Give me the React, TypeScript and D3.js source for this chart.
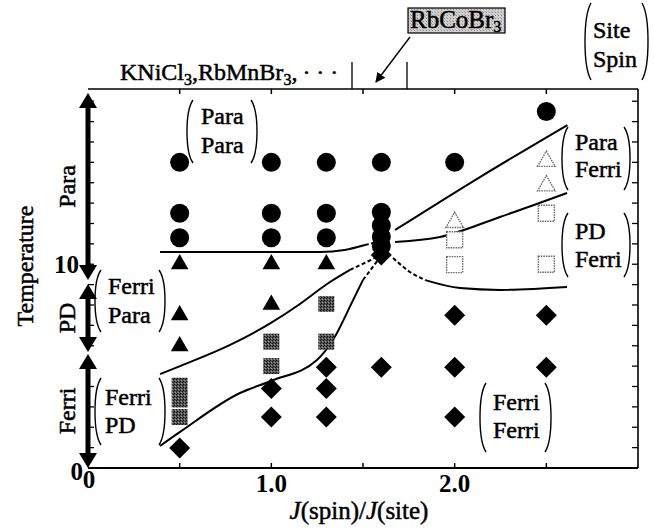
import React from 'react';
import * as d3 from 'd3';

const W = 654;
const H = 529;
const X_DOMAIN: [number, number] = [0, 3];
const Y_DOMAIN: [number, number] = [0, 18.6];

// Para / Para (filled circles)
const paraParaX = [0.5, 0.5, 0.5, 1.0, 1.0, 1.0, 1.3, 1.3, 1.3, 1.6, 1.6, 1.6, 1.6, 1.6, 2.0, 2.5];
const paraParaY = [15.0, 12.5, 11.3, 15.0, 12.5, 11.3, 15.0, 12.5, 11.3, 15.0, 12.55, 11.9, 11.35, 10.9, 15.0, 17.5];
// Ferri / Para (filled triangles)
const ferriParaX = [0.5, 0.5, 0.5, 1.0, 1.0, 1.3];
const ferriParaY = [10.05, 7.55, 6.03, 10.05, 8.06, 10.05];
// Ferri / PD (stippled squares)
const ferriPDX = [0.5, 0.5, 0.5, 1.0, 1.0, 1.3, 1.3];
const ferriPDY = [4.04, 3.36, 2.5, 6.2, 5.0, 8.05, 6.2];
// Ferri / Ferri (diamonds)
const ferriFerriX = [0.5, 1.0, 1.0, 1.3, 1.3, 1.3, 1.6, 1.6, 2.0, 2.0, 2.0, 2.5, 2.5];
const ferriFerriY = [0.98, 3.9, 2.5, 4.95, 3.9, 2.5, 10.45, 4.95, 7.5, 4.95, 2.5, 7.5, 4.95];
// Para / Ferri (open triangles)
const paraFerriX = [2.0, 2.5, 2.5];
const paraFerriY = [12.1, 15.1, 13.9];
// PD / Ferri (open squares)
const pdFerriX = [2.0, 2.0, 2.5, 2.5];
const pdFerriY = [11.2, 9.98, 12.5, 10.0];

// phase boundaries (solid part, then dashed part near the multicritical point)
const lineAX = [0.393, 1.265, 1.40, 1.51];
const lineAY = [10.6, 10.6, 10.7, 10.94];
const lineADashX = [1.51, 1.56];
const lineADashY = [10.94, 11.05];
const lineBX = [1.675, 2.138, 2.615];
const lineBY = [11.68, 14.28, 16.83];
const lineCX = [1.675, 1.92, 2.247, 2.613];
const lineCY = [11.09, 11.34, 12.32, 13.5];
const lineDX = [1.84, 2.029, 2.247, 2.613];
const lineDY = [9.22, 8.83, 8.74, 8.88];
const lineDDashX = [1.664, 1.756, 1.84];
const lineDDashY = [10.31, 9.62, 9.22];
const lineEX = [0.393, 0.502, 0.775, 0.998, 1.156, 1.304, 1.429];
const lineEY = [4.61, 5.0, 6.04, 7.12, 8.05, 9.03, 9.72];
const lineEDashX = [1.429, 1.566];
const lineEDashY = [9.72, 10.31];
const lineFX = [0.393, 0.502, 0.829, 0.998, 1.249, 1.336, 1.446, 1.5];
const lineFY = [1.08, 1.77, 3.68, 4.27, 5.3, 6.28, 8.24, 9.23];
const lineFDashX = [1.5, 1.582];
const lineFDashY = [9.23, 10.21];

// temperature regions along the left axis
const regionNames = ['Para', 'PD', 'Ferri'];
const regionTop = [18.4, 9.03, 5.6];
const regionBottom = [9.23, 5.69, 0];

const xTickMinor = [0.5, 1.0, 1.5, 2.0, 2.5];
const xTickLabels = ['1.0', '2.0'];
const xTickLabelValues = [1.0, 2.0];
const yTicks = d3.range(1, 19);

const FONT = '"Liberation Serif", "Times New Roman", serif';
const TS = { stroke: '#000', strokeWidth: 0.5 };

const x = d3.scaleLinear().domain(X_DOMAIN).range([88, 638]);
const y = d3.scaleLinear().domain(Y_DOMAIN).range([468, 89]);

const lineGen = d3
  .line<[number, number]>()
  .x((d) => x(d[0]))
  .y((d) => y(d[1]))
  .curve(d3.curveMonotoneX);

function zip(a: number[], b: number[]): [number, number][] {
  return a.map((v, i) => [v, b[i]]);
}

const circleSym = d3.symbol().type(d3.symbolCircle).size(Math.PI * 9.5 * 9.5)();
const triSym = d3.symbol().type(d3.symbolTriangle).size(135)();

function Paren({ x0, top, bottom, dir }: { x0: number; top: number; bottom: number; dir: number }) {
  const w = 8;
  const h = bottom - top;
  const xe = x0 + dir * w;
  const d = `M${xe},${top} C${x0},${top + h * 0.18} ${x0},${bottom - h * 0.18} ${xe},${bottom}`;
  return <path d={d} fill="none" stroke="#000" strokeWidth={1.4} />;
}

function Bracket({
  left,
  right,
  top,
  bottom,
  tx,
  lines,
  baselines,
}: {
  left: number;
  right: number;
  top: number;
  bottom: number;
  tx: number;
  lines: string[];
  baselines: number[];
}) {
  return (
    <g>
      <Paren x0={left} top={top} bottom={bottom} dir={1} />
      <Paren x0={right} top={top} bottom={bottom} dir={-1} />
      {lines.map((t, i) => (
        <text key={i} x={tx} y={baselines[i]} fontFamily={FONT} fontSize={24} fill="#000" {...TS}>
          {t}
        </text>
      ))}
    </g>
  );
}

function VArrow({ yTop, yBot }: { yTop: number; yBot: number }) {
  const hx = 9;
  const hl = 15;
  return (
    <g>
      <line x1={88} x2={88} y1={yTop + hl - 1} y2={yBot - hl + 1} stroke="#000" strokeWidth={5} />
      <path d={`M88,${yTop} L${88 - hx},${yTop + hl} L${88 + hx},${yTop + hl} Z`} fill="#000" />
      <path d={`M88,${yBot} L${88 - hx},${yBot - hl} L${88 + hx},${yBot - hl} Z`} fill="#000" />
    </g>
  );
}

export default function App() {
  const solid = [
    zip(lineAX, lineAY),
    zip(lineBX, lineBY),
    zip(lineCX, lineCY),
    zip(lineDX, lineDY),
    zip(lineEX, lineEY),
    zip(lineFX, lineFY),
  ];
  const dashed = [
    zip(lineADashX, lineADashY),
    zip(lineDDashX, lineDDashY),
    zip(lineEDashX, lineEDashY),
    zip(lineFDashX, lineFDashY),
  ];
  return (
    <svg
      width={W}
      height={H}
      viewBox={`0 0 ${W} ${H}`}
      style={{ position: 'absolute', left: 0, top: 0, background: '#fff' }}
    >
      <defs>
        <pattern id="stip" width="3" height="3" patternUnits="userSpaceOnUse">
          <rect width="3" height="3" fill="#555" />
          <rect width="1" height="1" fill="#000" />
          <rect x="2" y="1" width="1" height="1" fill="#111" />
          <rect x="1" y="2" width="1" height="1" fill="#999" />
        </pattern>
        <pattern id="light" width="3" height="3" patternUnits="userSpaceOnUse">
          <rect width="3" height="3" fill="#d0d0d0" />
          <rect width="1" height="1" fill="#888" />
          <rect x="2" y="2" width="1" height="1" fill="#aaa" />
        </pattern>
        <marker id="ah" markerWidth="10" markerHeight="10" refX="9" refY="5" orient="auto" markerUnits="userSpaceOnUse">
          <path d="M0,0 L10,5 L0,10 Z" fill="#000" />
        </marker>
      </defs>

      {/* frame */}
      <line x1={88} x2={638} y1={89} y2={89} stroke="#000" strokeWidth={1.6} />
      <line x1={638} x2={638} y1={89} y2={468} stroke="#000" strokeWidth={1.6} />
      <line x1={88} x2={638} y1={468} y2={468} stroke="#000" strokeWidth={1.8} />

      {/* ticks */}
      {xTickMinor.map((v, i) => (
        <g key={'xt' + i}>
          <line x1={x(v)} x2={x(v)} y1={89} y2={94} stroke="#000" strokeWidth={1.5} />
          <line x1={x(v)} x2={x(v)} y1={468} y2={463} stroke="#000" strokeWidth={1.5} />
        </g>
      ))}
      {yTicks.map((v) => (
        <g key={'yt' + v}>
          <line x1={638} x2={632} y1={y(v)} y2={y(v)} stroke="#000" strokeWidth={1.3} />
          <line x1={88} x2={94} y1={y(v)} y2={y(v)} stroke="#000" strokeWidth={1.3} />
        </g>
      ))}

      {/* left axis region arrows */}
      {regionNames.map((n, i) => (
        <VArrow key={n} yTop={y(regionTop[i])} yBot={y(regionBottom[i])} />
      ))}
      {regionNames.map((n, i) => (
        <text
          key={'rn' + n}
          transform={`translate(75,${(y(regionTop[i]) + y(regionBottom[i])) / 2}) rotate(-90)`}
          textAnchor="middle"
          fontFamily={FONT}
          fontSize={24}
          {...TS}
        >
          {n}
        </text>
      ))}

      {/* axis labels */}
      <text x={79} y={273} textAnchor="end" fontFamily={FONT} fontSize={25} fontWeight="bold">
        10
      </text>
      <text x={83} y={480} textAnchor="end" fontFamily={FONT} fontSize={25} fontWeight="bold">
        0
      </text>
      <text x={x(0) + 1} y={488} textAnchor="middle" fontFamily={FONT} fontSize={25} fontWeight="bold">
        0
      </text>
      {xTickLabels.map((t, i) => (
        <text
          key={t}
          x={x(xTickLabelValues[i])}
          y={492}
          textAnchor="middle"
          fontFamily={FONT}
          fontSize={25}
          fontWeight="bold"
        >
          {t}
        </text>
      ))}
      <text x={359} y={519} textAnchor="middle" fontFamily={FONT} fontSize={25} {...TS}>
        <tspan fontStyle="italic">J</tspan>(spin)/<tspan fontStyle="italic">J</tspan>(site)
      </text>
      <text transform="translate(33,266) rotate(-90)" textAnchor="middle" fontFamily={FONT} fontSize={24} {...TS}>
        Temperature
      </text>

      {/* phase boundary lines */}
      {solid.map((pts, i) => (
        <path key={'ln' + i} d={lineGen(pts) || ''} fill="none" stroke="#000" strokeWidth={2} />
      ))}
      {dashed.map((pts, i) => (
        <path
          key={'ld' + i}
          d={lineGen(pts) || ''}
          fill="none"
          stroke="#000"
          strokeWidth={2}
          strokeDasharray="4,2.5"
        />
      ))}

      {/* markers */}
      {zip(ferriParaX, ferriParaY).map((p, i) => (
        <path key={'fp' + i} d={triSym || ''} transform={`translate(${x(p[0])},${y(p[1]) + 1})`} fill="#000" />
      ))}
      {zip(ferriPDX, ferriPDY).map((p, i) => (
        <rect key={'fd' + i} x={x(p[0]) - 8} y={y(p[1]) - 8} width={16} height={16} fill="url(#stip)" />
      ))}
      {zip(ferriFerriX, ferriFerriY).map((p, i) => (
        <path
          key={'ff' + i}
          d={`M${x(p[0])},${y(p[1]) - 10.5} L${x(p[0]) + 10.5},${y(p[1])} L${x(p[0])},${y(p[1]) + 10.5} L${x(p[0]) - 10.5},${y(p[1])} Z`}
          fill="#000"
        />
      ))}
      {zip(paraParaX, paraParaY).map((p, i) => (
        <path key={'pp' + i} d={circleSym || ''} transform={`translate(${x(p[0])},${y(p[1])})`} fill="#000" />
      ))}
      {zip(paraFerriX, paraFerriY).map((p, i) => (
        <path
          key={'pf' + i}
          d={triSym || ''}
          transform={`translate(${x(p[0])},${y(p[1]) + 1})`}
          fill="#fff"
          stroke="#666"
          strokeWidth={1.4}
          strokeDasharray="1.5,1"
        />
      ))}
      {zip(pdFerriX, pdFerriY).map((p, i) => (
        <rect
          key={'pd' + i}
          x={x(p[0]) - 8}
          y={y(p[1]) - 8}
          width={16}
          height={16}
          fill="#fff"
          stroke="#666"
          strokeWidth={1.4}
          strokeDasharray="1.5,1"
        />
      ))}

      {/* phase labels */}
      <Bracket left={185} right={259} top={100} bottom={163} tx={201} lines={['Para', 'Para']} baselines={[124, 153]} />
      <Bracket left={93} right={167} top={270} bottom={332} tx={108} lines={['Ferri', 'Para']} baselines={[294, 323]} />
      <Bracket left={93} right={167} top={378} bottom={445} tx={105} lines={['Ferri', 'PD']} baselines={[405, 433]} />
      <Bracket left={478} right={553} top={383} bottom={452} tx={493} lines={['Ferri', 'Ferri']} baselines={[410, 438]} />
      <Bracket left={560} right={632} top={127} bottom={190} tx={575} lines={['Para', 'Ferri']} baselines={[150, 177]} />
      <Bracket left={560} right={632} top={213} bottom={277} tx={575} lines={['PD', 'Ferri']} baselines={[239, 267]} />
      <Bracket left={583} right={650} top={3} bottom={80} tx={593} lines={['Site', 'Spin']} baselines={[38, 67]} />

      {/* compounds along the top */}
      <text x={120} y={80} fontFamily={FONT} fontSize={24} {...TS}>
        KNiCl
        <tspan fontSize={16} dy={5}>3</tspan>
        <tspan dy={-5}>,RbMnBr</tspan>
        <tspan fontSize={16} dy={5}>3</tspan>
        <tspan dy={-5}>,</tspan>
        <tspan dx={5} letterSpacing={6}>···</tspan>
      </text>
      <line x1={352} x2={352} y1={62} y2={89} stroke="#000" strokeWidth={1.3} />
      <line x1={407} x2={407} y1={62} y2={89} stroke="#000" strokeWidth={1.3} />
      <rect x={408} y={8} width={97} height={25} fill="url(#light)" stroke="#000" strokeWidth={1.2} />
      <text x={410} y={28} fontFamily={FONT} fontSize={25} {...TS}>
        RbCoBr
        <tspan fontSize={16} dy={4}>3</tspan>
      </text>
      <line x1={410} y1={37} x2={376} y2={82} stroke="#000" strokeWidth={1.4} markerEnd="url(#ah)" />
    </svg>
  );
}
